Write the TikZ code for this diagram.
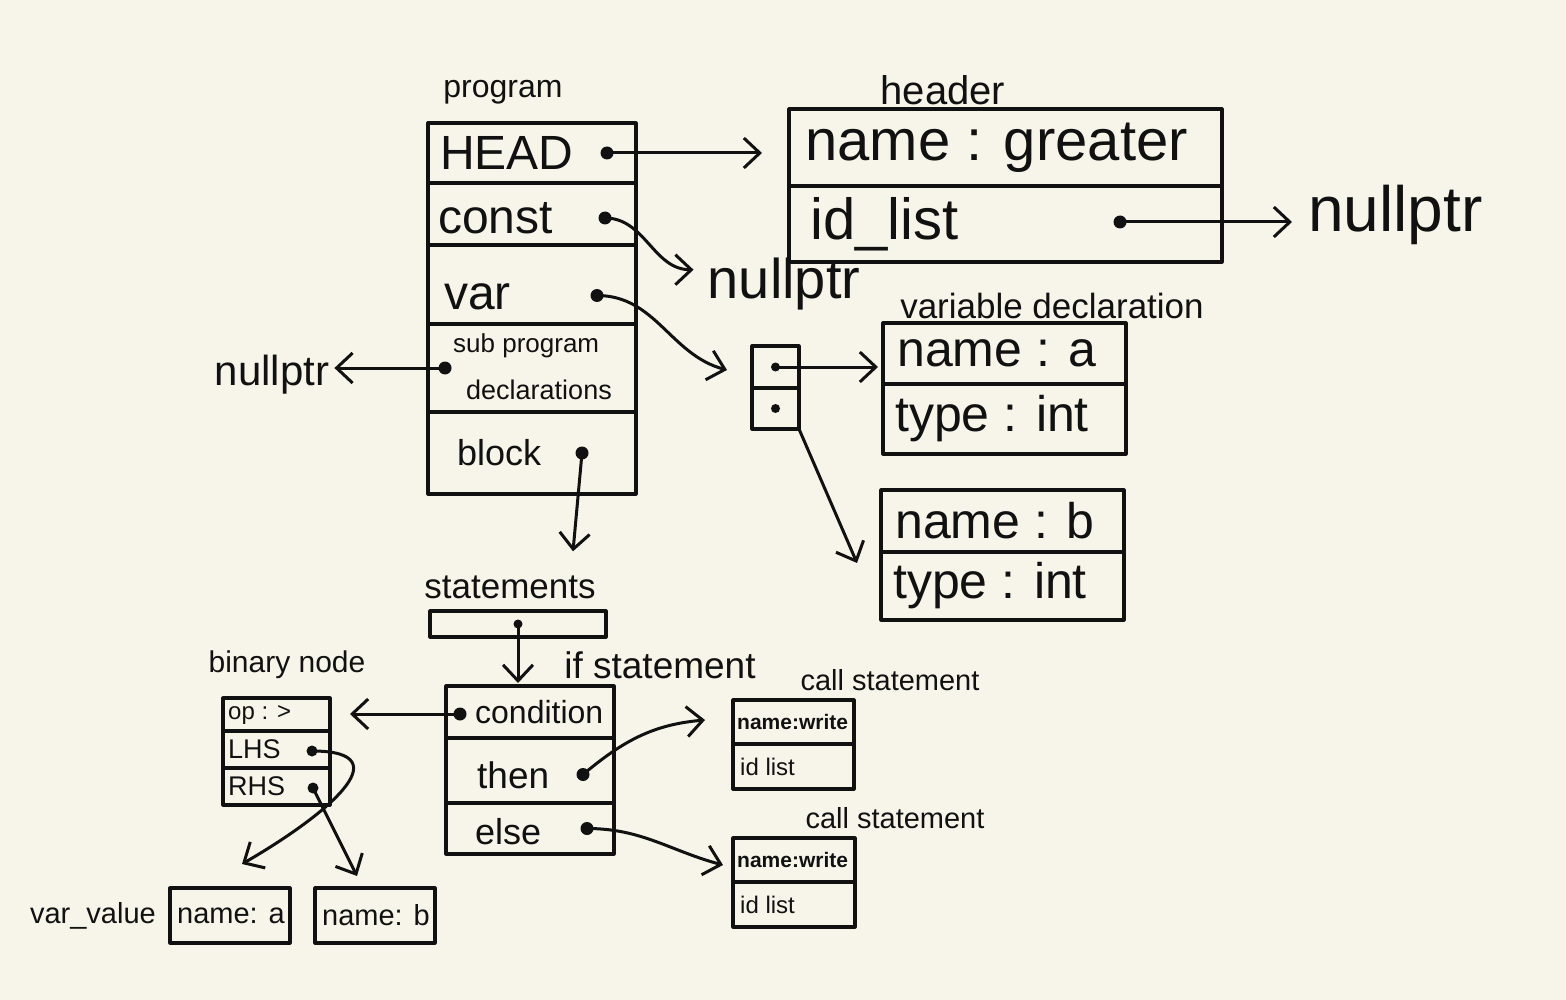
\documentclass[tikz,border=0pt]{standalone}
\usepackage{fontspec}
\setmainfont{Liberation Sans}
\usetikzlibrary{arrows.meta,positioning}
\definecolor{paper}{HTML}{F7F5EA}
\definecolor{ink}{HTML}{111111}
\begin{document}
\begin{tikzpicture}[x=1pt,y=-1pt, line join=round,
  fld/.style={draw=ink, line width=3.2pt, outer sep=0pt, inner sep=0pt},
  tx/.style={inner sep=0pt, text=ink, font=\fontsize{#1}{#1}\selectfont},
  dot/.style={circle, fill=ink, inner sep=0pt, minimum size=13pt},
  sdot/.style={dot, minimum size=9pt},
  ptr/.style={-{Straight Barb[length=16pt,width=30pt]}, draw=ink, line width=3pt, line cap=round}]
\fill[paper] (0,0) rectangle (1566,1000);
\useasboundingbox (0,0) rectangle (1566,1000);

% program
\node[fld, minimum width=208pt, minimum height=60pt] (hd) at (532,153) {};
\node[fld, minimum width=208pt, minimum height=62pt, below=0pt of hd] (cn) {};
\node[fld, minimum width=208pt, minimum height=79pt, below=0pt of cn] (vr) {};
\node[fld, minimum width=208pt, minimum height=88pt, below=0pt of vr] (sp) {};
\node[fld, minimum width=208pt, minimum height=82pt, below=0pt of sp] (bl) {};
\node[tx=32] (lprog) at (503,92) {program};
\node[tx=48, right=12pt of hd.west] (thd) {HEAD};
\node[tx=48, right=10pt of cn.west, yshift=-4pt] (tcn) {const};
\node[tx=48, right=16pt of vr.west, yshift=-12pt] (tvr) {var};
\node[tx=26, right=25pt of sp.west, yshift=22pt] (tsp1) {sub program};
\node[tx=27, right=38pt of sp.west, yshift=-22pt] (tsp2) {declarations};
\node[tx=36, right=29pt of bl.west] (tbl) {block};
\node[dot] (hdp) at ([xshift=-29pt]hd.east) {};
\node[dot] (cnp) at ([xshift=-31pt, yshift=-4pt]cn.east) {};
\node[dot] (vrp) at ([xshift=-39pt, yshift=-11pt]vr.east) {};
\node[dot] (spp) at ([xshift=17pt]sp.west) {};
\node[dot] (blp) at ([xshift=-54pt]bl.east) {};

% header
\node[fld, minimum width=433pt, minimum height=77pt] (hn) at (1005.5,147.5) {};
\node[fld, minimum width=433pt, minimum height=76pt, below=0pt of hn] (hi) {};
\node[tx=40] (lhdr) at (943,90) {header};
\node[tx=58, right=16pt of hn.west] (thn) {name : greater};
\node[tx=58, right=21pt of hi.west] (thi) {id\_list};
\node[dot] (hip) at ([xshift=-102pt, yshift=2pt]hi.east) {};
\node[tx=64, anchor=west] (nl1) at (1308,215) {nullptr};

% nullptr of const, sub program
\node[tx=56] (nl2) at (784,284) {nullptr};
\node[tx=42] (nl3) at (272,375) {nullptr};

% var list and variable declarations
\node[fld, minimum width=47pt, minimum height=42pt] (ls1) at (775.5,367) {};
\node[fld, minimum width=47pt, minimum height=41pt, below=0pt of ls1] (ls2) {};
\node[sdot] (ls1p) at (ls1.center) {};
\node[sdot] (ls2p) at (ls2.center) {};
\node[fld, minimum width=243pt, minimum height=61pt] (da1) at (1004.5,353.5) {};
\node[fld, minimum width=243pt, minimum height=70pt, below=0pt of da1] (da2) {};
\node[fld, minimum width=243pt, minimum height=62pt] (db1) at (1002.5,521) {};
\node[fld, minimum width=243pt, minimum height=68pt, below=0pt of db1] (db2) {};
\node[tx=35] (ldecl) at (1052,306) {variable declaration};
\node[tx=50, right=14pt of da1.west] (tda1) {name : a};
\node[tx=50, right=12pt of da2.west] (tda2) {type : int};
\node[tx=50, right=14pt of db1.west] (tdb1) {name : b};
\node[tx=50, right=12pt of db2.west] (tdb2) {type : int};

% statements
\node[tx=35] (lst) at (510,587) {statements};
\node[fld, minimum width=176pt, minimum height=26pt] (st) at (518,624) {};
\node[sdot] (stp) at (st.center) {};

% if statement
\node[fld, minimum width=168pt, minimum height=52pt] (ic) at (530,712) {};
\node[fld, minimum width=168pt, minimum height=65pt, below=0pt of ic] (it) {};
\node[fld, minimum width=168pt, minimum height=51pt, below=0pt of it] (ie) {};
\node[tx=37] (lif) at (660,665) {if statement};
\node[tx=32, right=29pt of ic.west] (tic) {condition};
\node[tx=37, right=31pt of it.west, yshift=-5pt] (tit) {then};
\node[tx=36, right=29pt of ie.west, yshift=-3pt] (tie) {else};
\node[dot] (icp) at ([xshift=14pt, yshift=-2pt]ic.west) {};
\node[dot] (itp) at ([xshift=-31pt, yshift=-4pt]it.east) {};
\node[dot] (iep) at ([xshift=-27pt]ie.east) {};

% binary node
\node[fld, minimum width=107pt, minimum height=33pt] (bn1) at (276.5,714.5) {};
\node[fld, minimum width=107pt, minimum height=37pt, below=0pt of bn1] (bn2) {};
\node[fld, minimum width=107pt, minimum height=37pt, below=0pt of bn2] (bn3) {};
\node[tx=30] (lbin) at (287,665) {binary node};
\node[tx=24, right=5pt of bn1.west] (tbn1) {op : >};
\node[tx=27, right=5pt of bn2.west] (tbn2) {LHS};
\node[tx=27, right=5pt of bn3.west] (tbn3) {RHS};
\node[dot, minimum size=11pt] (bn2p) at ([xshift=-18pt, yshift=-1.5pt]bn2.east) {};
\node[dot, minimum size=11pt] (bn3p) at ([xshift=-17pt, yshift=-1.5pt]bn3.east) {};

% var_value
\node[fld, minimum width=120pt, minimum height=55pt] (vv1) at (230,915.5) {};
\node[fld, minimum width=120pt, minimum height=55pt] (vv2) at (375,915.5) {};
\node[tx=29, right=7pt of vv1.west] (tvv1) {name: a};
\node[tx=29, right=7pt of vv2.west] (tvv2) {name: b};
\node[tx=29, left=14pt of vv1] (lvv) {var\_value};

% call statements
\node[fld, minimum width=121pt, minimum height=44pt] (c1n) at (793.5,722) {};
\node[fld, minimum width=121pt, minimum height=45pt, below=0pt of c1n] (c1i) {};
\node[fld, minimum width=122pt, minimum height=44pt] (c2n) at (794,860) {};
\node[fld, minimum width=122pt, minimum height=45pt, below=0pt of c2n] (c2i) {};
\node[tx=29] (lc1) at (890,680) {call statement};
\node[tx=29] (lc2) at (895,818) {call statement};
\node[tx=21, font=\fontsize{21}{21}\selectfont\bfseries, right=4pt of c1n.west] (tc1n) {name:write};
\node[tx=24, right=7pt of c1i.west] (tc1i) {id list};
\node[tx=21, font=\fontsize{21}{21}\selectfont\bfseries, right=4pt of c2n.west] (tc2n) {name:write};
\node[tx=24, right=7pt of c2i.west] (tc2i) {id list};

% pointers
\draw[ptr, shorten >=27pt] (hdp.center) -- (hdp -| hn.west);
\draw[ptr, shorten >=16pt] (hip.center) -- (hip -| nl1.west);
\draw[ptr] (cnp.center) to[out=0, in=180] ([xshift=-14pt, yshift=-12pt]nl2.north west);
\draw[ptr] (vrp.center) to[out=0, in=165] ([xshift=-25pt, yshift=-3pt]ls1.west);
\draw[ptr, shorten >=5pt] (ls1p.center) -- (ls1p -| da1.west);
\draw[ptr] (ls2.south east) -- ([xshift=-24pt, yshift=-11pt]db2.north west);
\draw[ptr, shorten >=5pt] (spp.center) -- (spp -| nl3.east);
\draw[ptr] (blp.center) -- ([xshift=63pt, yshift=24pt]lst.north);
\draw[ptr, shorten >=3pt] (stp.center) -- (stp |- ic.north);
\draw[ptr, shorten >=20pt] (icp.center) -- (icp -| bn1.east);
\draw[ptr] (itp.center) to[out=40, in=185] ([xshift=-28pt, yshift=2pt]c1n.west);
\draw[ptr] (iep.center) to[out=0, in=165] ([xshift=-10pt, yshift=-5pt]c2n.west);
\draw[ptr] (bn2p.center) to[out=0, in=30, looseness=1.8] ([xshift=12pt, yshift=24pt]vv1.north);
\draw[ptr] (bn3p.center) -- ([xshift=-18pt, yshift=12pt]vv2.north);
\end{tikzpicture}
\end{document}
